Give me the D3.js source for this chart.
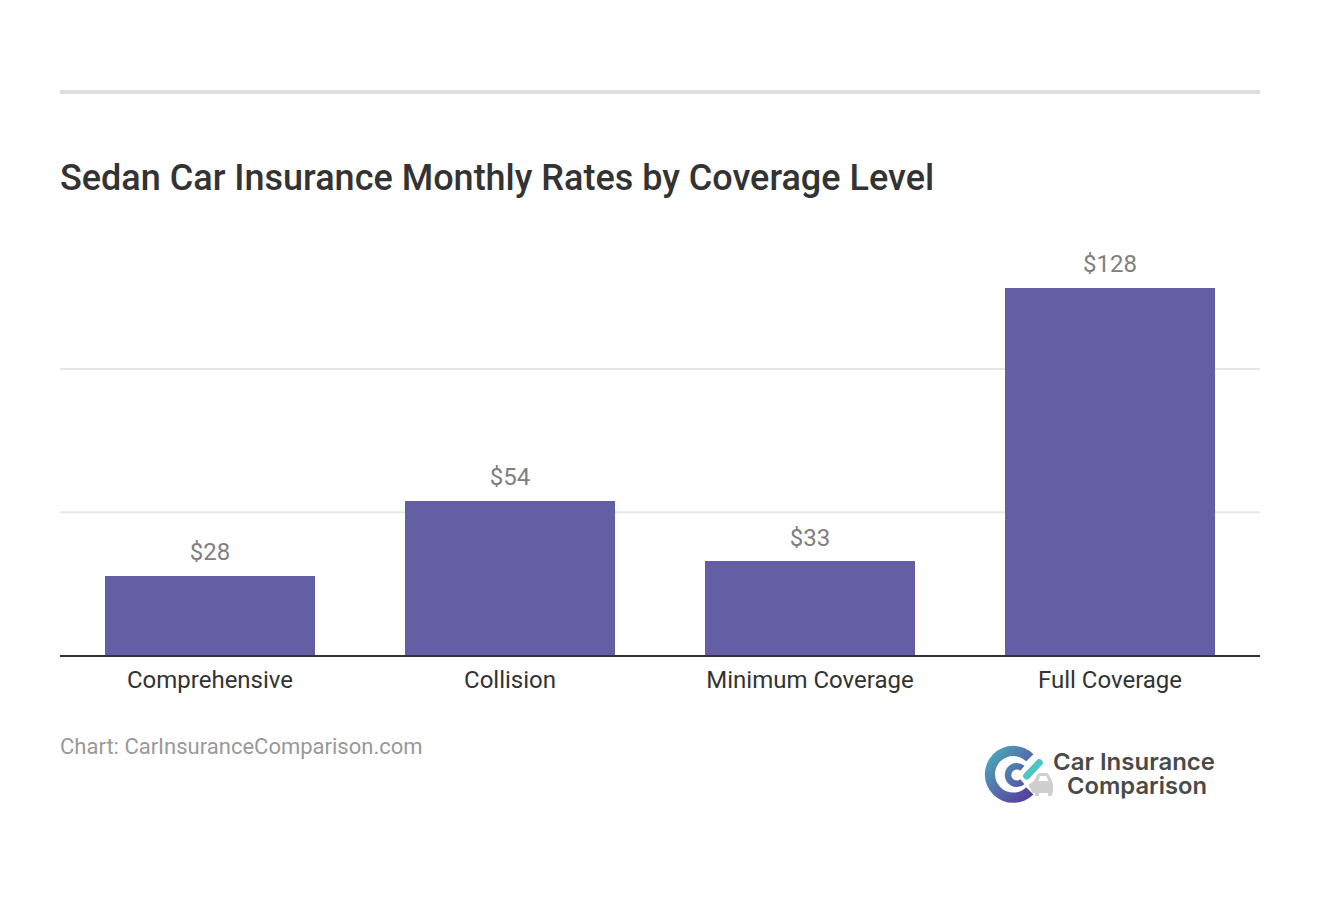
<!DOCTYPE html>
<html>
<head>
<meta charset="utf-8">
<script src="https://cdn.jsdelivr.net/npm/d3@7"></script>
<style>
  html, body { margin: 0; padding: 0; background: #fff; }
  text { font-family: Roboto, sans-serif; }
</style>
</head>
<body>
<div id="chart"></div>
<script>
const categories = ["Comprehensive", "Collision", "Minimum Coverage", "Full Coverage"];
const rates = [27.8, 54.1, 32.9, 128.3];
const gridTicks = [50, 100];

const width = 1320, height = 914;
const plot = { left: 60, right: 1260, base: 655.5 };

const svg = d3.select("#chart").append("svg")
  .attr("width", width)
  .attr("height", height)
  .style("display", "block");

// linha do topo
svg.append("rect").attr("x", 60).attr("y", 90).attr("width", 1200).attr("height", 4).attr("fill", "#e0e0e0");

svg.append("text")
  .attr("x", 60).attr("y", 190)
  .style("font-size", "36px").style("font-weight", 500)
  .attr("fill", "#333")
  .text("Sedan Car Insurance Monthly Rates by Coverage Level");

const x = d3.scaleBand()
  .domain(categories)
  .range([plot.left, plot.right])
  .paddingInner(0.3)
  .paddingOuter(0.15);

const y = d3.scaleLinear()
  .domain([0, 100])
  .range([plot.base, 369]);

// grelha
svg.selectAll("line.grid")
  .data(gridTicks)
  .enter().append("line")
  .attr("class", "grid")
  .attr("x1", plot.left).attr("x2", plot.right)
  .attr("y1", d => y(d)).attr("y2", d => y(d))
  .attr("stroke", "#e6e6e6").attr("stroke-width", 2);

// barras
svg.selectAll("rect.bar")
  .data(categories)
  .enter().append("rect")
  .attr("class", "bar")
  .attr("x", d => x(d))
  .attr("y", (d, i) => Math.round(y(rates[i])))
  .attr("width", x.bandwidth())
  .attr("height", (d, i) => y(0) - Math.round(y(rates[i])))
  .attr("fill", "#645ea5");

// valores
svg.selectAll("text.value")
  .data(categories)
  .enter().append("text")
  .attr("class", "value")
  .attr("x", d => x(d) + x.bandwidth() / 2)
  .attr("y", (d, i) => y(rates[i]) - 15.5)
  .attr("text-anchor", "middle")
  .attr("fill", "#808080")
  .style("font-size", "24px")
  .text((d, i) => "$" + Math.round(rates[i]));

// eixo X
const axis = svg.append("g")
  .attr("transform", `translate(0,${plot.base + 0.5})`)
  .call(d3.axisBottom(x).tickSize(0).tickPadding(15).offset(0));
axis.select(".domain").attr("stroke", "#333").attr("stroke-width", 2);
axis.selectAll("text")
  .attr("fill", "#333")
  .style("font-size", "24px")
  .style("font-family", "Roboto, sans-serif");

svg.append("text")
  .attr("x", 60).attr("y", 754)
  .attr("fill", "#999")
  .style("font-size", "22px")
  .text("Chart: CarInsuranceComparison.com");

// logotipo
const defs = svg.append("defs");
const grad = defs.append("linearGradient")
  .attr("id", "logoGrad")
  .attr("gradientUnits", "userSpaceOnUse")
  .attr("x1", -25).attr("y1", -16).attr("x2", 17).attr("y2", 22);
grad.append("stop").attr("offset", "0").attr("stop-color", "#4aa3b6");
grad.append("stop").attr("offset", "0.6").attr("stop-color", "#5563a9");
grad.append("stop").attr("offset", "1").attr("stop-color", "#55409c");

const logo = svg.append("g");
const deg = Math.PI / 180;
const outerArc = d3.arc().innerRadius(18.3).outerRadius(28.5).startAngle(135 * deg).endAngle(405 * deg);
const innerArc = d3.arc().innerRadius(5.5).outerRadius(12).startAngle(140 * deg).endAngle(400 * deg);

logo.append("path").attr("d", outerArc())
  .attr("transform", "translate(1013.3,774.3)").attr("fill", "url(#logoGrad)");
logo.append("path").attr("d", innerArc())
  .attr("transform", "translate(1016.8,775)").attr("fill", "url(#logoGrad)");

// carro
const car = logo.append("g");
car.append("path").attr("fill", "#cfcfcf")
  .attr("d", "M1028 785 L1034 781 L1037 775 Q1038 773 1040 773 L1046 773 Q1048 773 1049 775 L1052 781 L1053 785 L1053 793 L1033 793 Z");
car.append("path").attr("fill", "#fff")
  .attr("d", "M1038.5 781 L1040 776 L1046 776 L1048.5 781 Z");
car.append("rect").attr("x", 1035).attr("y", 792).attr("width", 4).attr("height", 4).attr("fill", "#cfcfcf");
car.append("rect").attr("x", 1048).attr("y", 792).attr("width", 4).attr("height", 4).attr("fill", "#cfcfcf");

logo.append("line")
  .attr("x1", 1026.7).attr("y1", 776).attr("x2", 1039.3).attr("y2", 762.7)
  .attr("stroke", "#4fc4c4").attr("stroke-width", 7).attr("stroke-linecap", "round");

logo.append("text")
  .attr("x", 1053).attr("y", 770)
  .attr("fill", "#4a4a4a")
  .style("font-family", "Inter, sans-serif")
  .style("font-size", "23.5px").style("font-weight", 600)
  .attr("textLength", 162).attr("lengthAdjust", "spacingAndGlyphs")
  .text("Car Insurance");
logo.append("text")
  .attr("x", 1067).attr("y", 794)
  .attr("fill", "#4a4a4a")
  .style("font-family", "Inter, sans-serif")
  .style("font-size", "23.5px").style("font-weight", 600)
  .attr("textLength", 140).attr("lengthAdjust", "spacingAndGlyphs")
  .text("Comparison");
</script>
</body>
</html>
